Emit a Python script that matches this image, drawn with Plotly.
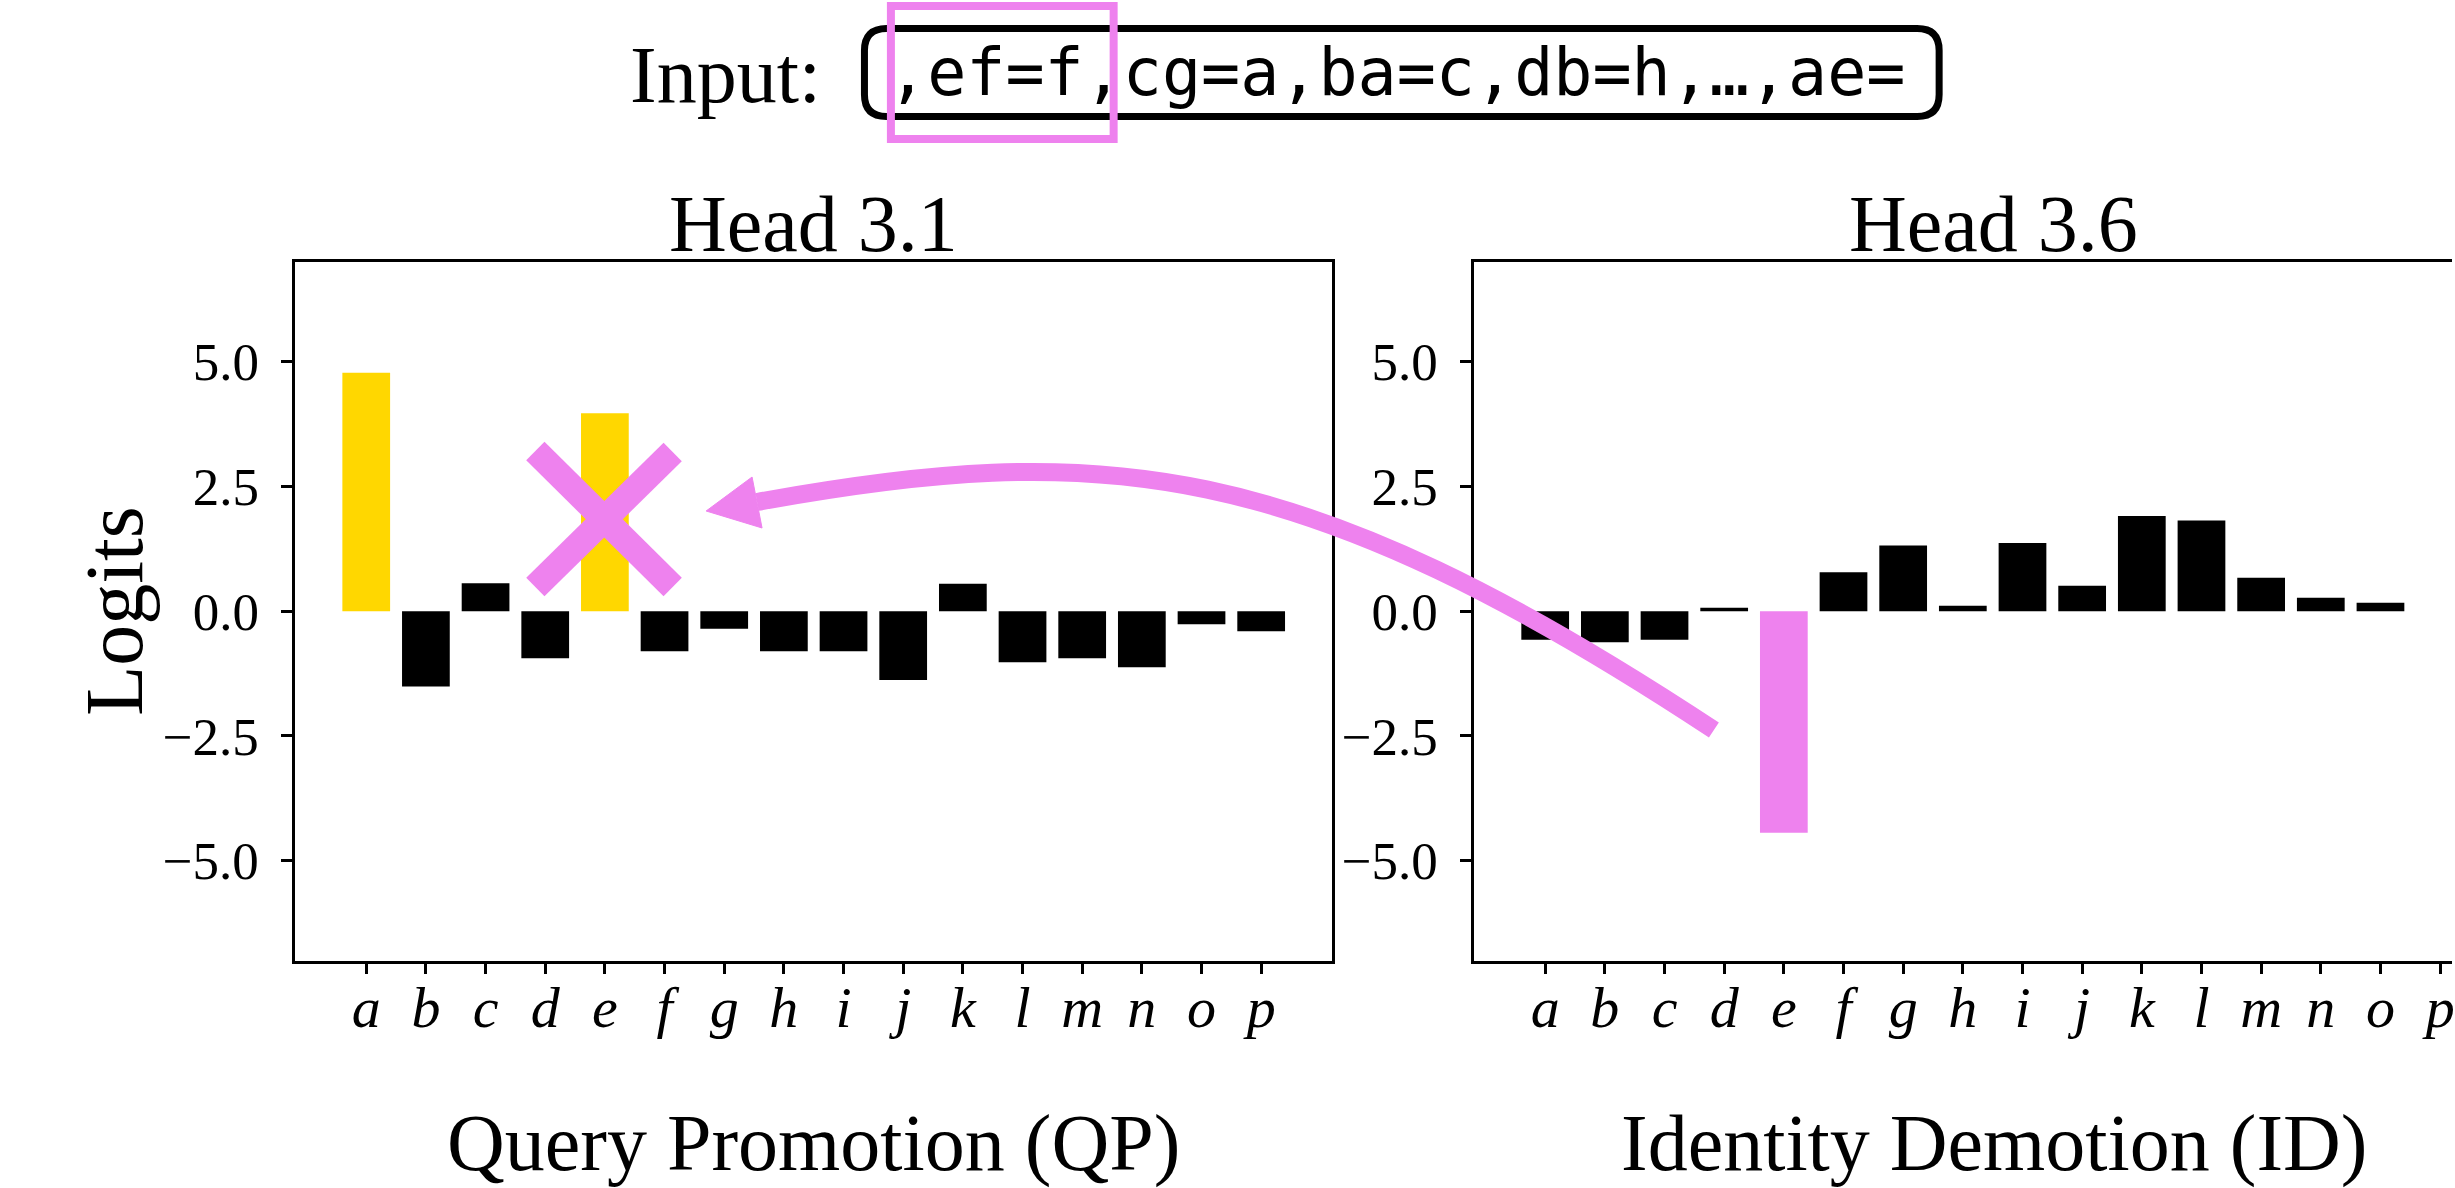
import plotly.graph_objects as go

# ---------------- data ----------------
letters = list("abcdefghijklmnop")
qp_logits = [4.78, -1.51, 0.56, -0.94, 3.97, -0.80, -0.35, -0.80,
             -0.80, -1.38, 0.55, -1.02, -0.94, -1.12, -0.26, -0.40]
id_logits = [-0.57, -0.62, -0.57, 0.07, -4.44, 0.78, 1.32, 0.11,
             1.37, 0.51, 1.91, 1.82, 0.67, 0.27, 0.17, 0.00]
qp_highlight = ["a", "e"]
id_highlight = ["e"]
ytick_vals = [-5.0, -2.5, 0.0, 2.5, 5.0]
ytick_text = ["\u22125.0", "\u22122.5", "0.0", "2.5", "5.0"]
titles = ["Head 3.1", "Head 3.6"]
xlabels = ["Query Promotion (QP)", "Identity Demotion (ID)"]
input_text = ",ef=f,cg=a,ba=c,db=h,\u2026,ae="

GOLD = "#FFD700"
VIOLET = "#EE82EE"
SERIF = "Liberation Serif, Times New Roman, serif"
MONO = "DejaVu Sans Mono, monospace"

W, H = 2455, 1188


def px(x):
    return x / W


def py(y):
    return 1 - y / H


idx = list(range(len(letters)))
qp_colors = [GOLD if l in qp_highlight else "black" for l in letters]
id_colors = [VIOLET if l in id_highlight else "black" for l in letters]

fig = go.Figure()
fig.add_trace(go.Bar(x=idx, y=qp_logits, marker=dict(color=qp_colors, line=dict(width=0)),
                     width=0.8, xaxis="x", yaxis="y", showlegend=False, hoverinfo="skip"))
fig.add_trace(go.Bar(x=idx, y=id_logits, marker=dict(color=id_colors, line=dict(width=0)),
                     width=0.8, xaxis="x2", yaxis="y2", showlegend=False, hoverinfo="skip"))

unit = (1333.8 - 295.6) / 17.38
x_common = dict(
    tickmode="array", tickvals=idx, ticktext=letters,
    ticks="outside", ticklen=11, tickwidth=2.5, tickcolor="black",
    showline=True, linecolor="black", linewidth=2.5,
    showgrid=False, zeroline=False, ticklabelstandoff=-17,
    ticklabeloverflow="allow",
    tickfont=dict(family=SERIF, size=58, color="black", style="italic"),
    fixedrange=True,
)
y_common = dict(
    range=[-7, 7], tickmode="array", tickvals=ytick_vals, ticktext=ytick_text,
    ticks="outside", ticklen=11, tickwidth=2.5, tickcolor="black",
    showline=True, linecolor="black", linewidth=2.5,
    showgrid=False, zeroline=False, ticklabelstandoff=12,
    tickfont=dict(family=SERIF, size=53, color="black"),
    domain=[py(960.5), py(262)], fixedrange=True,
)

fig.update_layout(
    width=W, height=H, margin=dict(l=0, r=0, t=0, b=0),
    paper_bgcolor="white", plot_bgcolor="white",
    xaxis=dict(domain=[px(295.6), px(1333.8)], range=[-1.19, 16.19], anchor="y",
               mirror=True, **x_common),
    yaxis=dict(anchor="x", mirror=True, **y_common),
    xaxis2=dict(domain=[px(1476), 1.0], range=[-1.19, -1.19 + (W - 1476) / unit], anchor="y2",
                mirror=True, **x_common),
    yaxis2=dict(anchor="x2", mirror=False, **y_common),
)

ann = []
def text(s, x, y, size=80, family=SERIF, angle=0):
    ann.append(dict(text=s, x=px(x), y=py(y), xref="paper", yref="paper",
                    xanchor="center", yanchor="middle", showarrow=False,
                    textangle=angle, font=dict(family=family, size=size, color="black")))

text(titles[0], 814, 224)
text(titles[1], 1996, 224)
text(xlabels[0], 814, 1143)
text(xlabels[1], 1996, 1143)
text("Logits", 114, 611, size=82, angle=-90)
text("Input:", 726, 75)
text(input_text, 1398, 73, size=65, family=MONO)
fig.update_layout(annotations=ann)

shapes = []

# rounded box around input text
x0, x1, y0, y1, r = 865.5, 1941.5, 28.5, 116.5, 22
pts = [("M", (x0 + r, y0)), ("L", (x1 - r, y0)), ("Q", (x1, y0), (x1, y0 + r)),
       ("L", (x1, y1 - r)), ("Q", (x1, y1), (x1 - r, y1)), ("L", (x0 + r, y1)),
       ("Q", (x0, y1), (x0, y1 - r)), ("L", (x0, y0 + r)), ("Q", (x0, y0), (x0 + r, y0))]
path = ""
for cmd, *ps in pts:
    path += cmd + " ".join(f"{px(a):.5f},{py(b):.5f}" for a, b in ps) + " "
path += "Z"
shapes.append(dict(type="path", path=path, xref="paper", yref="paper",
                   line=dict(color="black", width=7), fillcolor="rgba(0,0,0,0)"))

# pink highlight rectangle
shapes.append(dict(type="rect", x0=px(892), x1=px(1115), y0=py(6), y1=py(139),
                   xref="paper", yref="paper", line=dict(color=VIOLET, width=8),
                   fillcolor="rgba(0,0,0,0)"))

# cross over bar e (left)
for (a, b), (c, d) in [((536, 451), (673.5, 587)), ((673.5, 452), (536, 587))]:
    shapes.append(dict(type="line", x0=px(a), y0=py(b), x1=px(c), y1=py(d),
                       xref="paper", yref="paper", line=dict(color=VIOLET, width=26)))

# curved arrow
P0, P1, P2, P3 = (1716, 730), (1298.5, 455), (1101, 440), (758, 502)
cpath = (f"M{px(P0[0]):.5f},{py(P0[1]):.5f} C{px(P1[0]):.5f},{py(P1[1]):.5f} "
         f"{px(P2[0]):.5f},{py(P2[1]):.5f} {px(P3[0]):.5f},{py(P3[1]):.5f}")
shapes.append(dict(type="path", path=cpath, xref="paper", yref="paper",
                   line=dict(color=VIOLET, width=18), fillcolor="rgba(0,0,0,0)"))
head = [(707, 511), (753, 477), (763, 528)]
hpath = "M" + " L".join(f"{px(a):.5f},{py(b):.5f}" for a, b in head) + " Z"
shapes.append(dict(type="path", path=hpath, xref="paper", yref="paper",
                   line=dict(color=VIOLET, width=1), fillcolor=VIOLET))

fig.update_layout(shapes=shapes)

fig.write_html("out.html", config={"displayModeBar": False})
